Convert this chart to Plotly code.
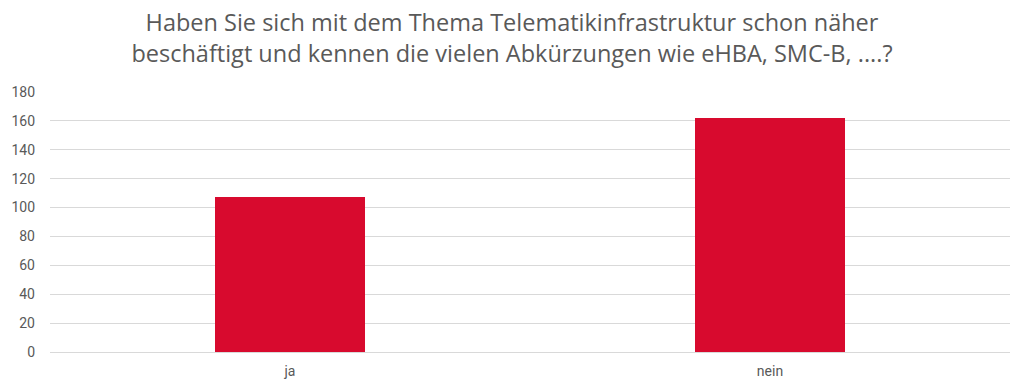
import plotly.graph_objects as go

categories = ["ja", "nein"]
values = [107, 162]
y_ticks = [0, 20, 40, 60, 80, 100, 120, 140, 160, 180]

bar_color = "#D80A2E"
text_color = "#595959"

fig = go.Figure(go.Bar(
    x=categories, y=values, marker=dict(color=bar_color, line=dict(width=0)),
    width=0.3125,
))

fig.update_layout(
    width=1024, height=392,
    margin=dict(l=50, r=14, t=92, b=40),
    paper_bgcolor="white", plot_bgcolor="white",
    font=dict(family="Roboto", color=text_color, size=14),
    title=dict(
        text="Haben Sie sich mit dem Thema Telematikinfrastruktur schon näher<br>beschäftigt und kennen die vielen Abkürzungen wie eHBA, SMC-B, ....?",
        x=0.5, xanchor="center", y=0.92, yanchor="top",
        font=dict(family="Open Sans", size=23.5, color=text_color),
    ),
    showlegend=False,
    bargap=0,
)
fig.update_yaxes(range=[0, 180], tickvals=y_ticks, showgrid=True, gridcolor="#D9D9D9",
                 gridwidth=1, zeroline=False, showline=False, ticks="", ticklabelstandoff=14,
                 automargin=False, tickfont=dict(size=14, color=text_color))
fig.update_xaxes(showline=True, linecolor="#D9D9D9", ticks="", automargin=False,
                 ticklabelstandoff=6, tickfont=dict(size=14, color=text_color))

fig.write_html("out.html", config={"displayModeBar": False},
               post_script="document.body.style.margin='0';")
